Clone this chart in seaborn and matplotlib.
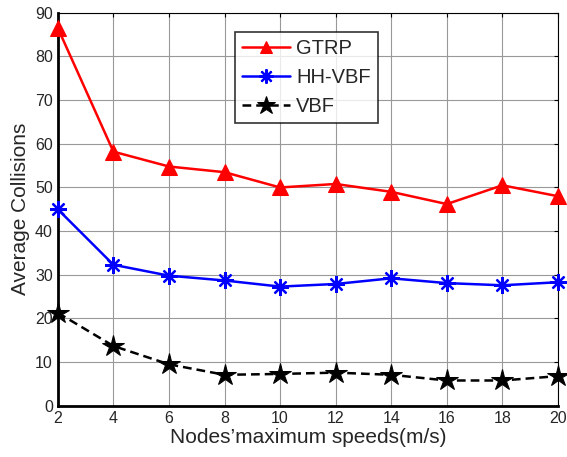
import matplotlib
matplotlib.use("Agg")
import matplotlib.pyplot as plt
import seaborn as sns
import pandas as pd

speeds = [2, 4, 6, 8, 10, 12, 14, 16, 18, 20]
gtrp = [86.5, 58.2, 54.8, 53.5, 50.0, 50.8, 49.0, 46.2, 50.5, 48.0]
hhvbf = [45.0, 32.3, 29.8, 28.7, 27.3, 27.9, 29.2, 28.1, 27.6, 28.3]
vbf = [21.3, 13.7, 9.5, 7.1, 7.3, 7.6, 7.1, 5.8, 5.8, 6.8]
series_names = ["GTRP", "HH-VBF", "VBF"]
x_ticks = [2, 4, 6, 8, 10, 12, 14, 16, 18, 20]
y_ticks = [0, 10, 20, 30, 40, 50, 60, 70, 80, 90]

sns.set_style("white")
plt.rcParams['font.family'] = ['Liberation Sans', 'DejaVu Sans']

fig = plt.figure(figsize=(5.67, 4.57), dpi=100)
ax = fig.add_axes([0.102, 0.112, 0.882, 0.860])

styles = [
    dict(color="#ff0000", marker="^", linestyle="-", markersize=11,
         markeredgecolor="#ff0000", markerfacecolor="#ff0000"),
    dict(color="#0000ff", marker=(8, 2, 0), linestyle="-", markersize=12,
         markeredgewidth=1.6, markeredgecolor="#0000ff"),
    dict(color="#000000", marker="*", linestyle=(0, (3.5, 2)), markersize=16,
         markeredgecolor="#000000", markerfacecolor="#000000"),
]
for name, vals, st in zip(series_names, [gtrp, hhvbf, vbf], styles):
    df = pd.DataFrame({"x": speeds, "y": vals})
    sns.lineplot(data=df, x="x", y="y", ax=ax, label=name, linewidth=1.8,
                 clip_on=False, zorder=3, **st)

ax.set_xlim(2, 20)
ax.set_ylim(0, 90)
ax.set_xticks(x_ticks)
ax.set_yticks(y_ticks)
ax.grid(True, color="#999999", linewidth=0.8)
ax.set_axisbelow(True)
ax.tick_params(direction="in", top=True, right=True, labelsize=11.5, length=3, color="black")
for s in ax.spines.values():
    s.set_visible(True)
    s.set_color("black")
    s.set_linewidth(0.8)
ax.spines["left"].set_linewidth(2)
ax.spines["bottom"].set_linewidth(2)
ax.set_xlabel("Nodes\u2019maximum speeds(m/s)", fontsize=15, labelpad=2)
ax.set_ylabel("Average Collisions", fontsize=15, labelpad=4)

leg = ax.legend(loc="upper left", bbox_to_anchor=(0.354, 0.952), fontsize=14.5,
                frameon=True, fancybox=False, edgecolor="black", handlelength=2.4,
                borderpad=0.35, labelspacing=0.5, handletextpad=0.3, borderaxespad=0,
                markerscale=0.85)
leg.get_frame().set_linewidth(1.2)

fig.savefig("out.png", dpi=100)
